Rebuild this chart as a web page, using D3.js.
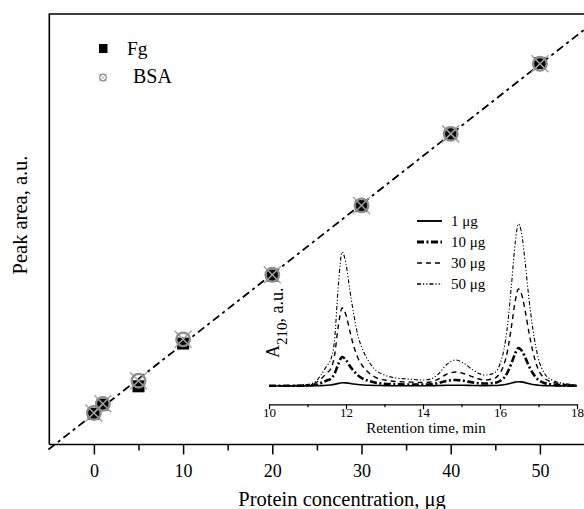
<!DOCTYPE html>
<html>
<head>
<meta charset="utf-8">
<script src="https://cdn.jsdelivr.net/npm/d3@7"></script>
<style>
  body { margin: 0; background: #fff; }
  svg { display: block; }
  text { font-family: "Liberation Serif", "Times New Roman", serif; fill: #000; }
</style>
</head>
<body>
<svg id="chart" width="584" height="509"></svg>
<script>
// Calibration: peak area vs. amount of protein injected
const concentration = [0, 1, 5, 10, 20, 30, 40, 50];          // µg
const fgArea  = [0.0, 1.3, 3.9, 10.0, 19.7, 29.6, 39.9, 50.0]; // a.u.
const bsaArea = [0.1, 1.4, 4.7, 10.6, 19.8, 29.7, 39.9, 49.9]; // a.u.
const xMajorTicks = [0, 10, 20, 30, 40, 50];
const xMinorTicks = [5, 15, 25, 35, 45];

// Inset chromatograms (A210 vs retention time)
const retention = [10, 10.5, 11.0, 11.2, 11.35, 11.5, 11.6, 11.7, 11.8, 11.9, 12.0, 12.1, 12.2, 12.3,
  12.45, 12.6, 12.8, 13.0, 13.3, 13.6, 14.0, 14.2, 14.4, 14.6, 14.85, 15.05, 15.3, 15.6, 15.85,
  16.0, 16.1, 16.2, 16.3, 16.4, 16.48, 16.55, 16.65, 16.75, 16.85, 17.0, 17.15, 17.35, 17.6, 18.0];
const a1ug = [0, 0, 0.1, 0.2, 0.4, 0.7, 1, 1.6, 2.6, 3.3, 3.1, 2.6, 2, 1.5,
  1, 0.7, 0.5, 0.4, 0.3, 0.3, 0.3, 0.3, 0.5, 0.7, 0.8, 0.7, 0.5, 0.4, 0.5,
  0.8, 1.2, 2, 3, 3.9, 4.3, 4.1, 3.4, 2.4, 1.5, 0.8, 0.4, 0.2, 0.1, 0];
const a10ug = [0.2, 0.2, 0.5, 1.2, 3, 5.5, 7, 12, 22, 29, 26, 20, 15, 11,
  7, 5, 3, 2.2, 1.8, 1.5, 1.5, 1.8, 3, 5, 6, 5.2, 3.5, 2.5, 3,
  5, 8, 14, 23, 33, 38, 36, 29, 20, 13, 6, 3, 1.5, 0.8, 0.3];
const a30ug = [0.3, 0.3, 1, 3, 7, 13, 17, 30, 60, 78, 71, 55, 40, 29,
  19, 13, 8, 6, 4.5, 4, 3.5, 4, 7, 11.5, 14, 12.5, 9, 6, 7.5,
  13, 21, 36, 60, 86, 97, 93, 76, 54, 35, 16, 8, 4, 2, 0.5];
const a50ug = [0.5, 0.5, 1.5, 4, 11, 20, 26, 45, 100, 134, 122, 96, 72, 52,
  35, 24, 15, 11, 8, 7, 6, 7, 12, 21, 26, 23, 16, 11, 13,
  22, 36, 62, 102, 145, 162, 155, 125, 88, 58, 27, 13, 6, 3, 1];
const insetLabels = ["1 μg", "10 μg", "30 μg", "50 μg"];
const insetTicksMajor = [10, 12, 14, 16, 18];
const insetTicksMinor = [11, 13, 15, 17];

const svg = d3.select("#chart");

// ---------- main axes ----------
const x = d3.scaleLinear().domain([-5, 55]).range([49.3, 584.5]);
const y = d3.scaleLinear().domain([-4.4, 57]).range([444.5, 14]);

// frame: left and top edges, bottom axis
svg.append("path")
  .attr("d", `M${x(-5)},${y(-4.4)}V${y(57)}H586`)
  .attr("fill", "none").attr("stroke", "#000").attr("stroke-width", 1.6);

const gx = svg.append("g").attr("transform", `translate(0,${y(-4.4)})`);
gx.call(d3.axisBottom(x).tickValues(xMajorTicks).tickSize(10).tickSizeOuter(0).tickPadding(9.5));
gx.append("g").call(d3.axisBottom(x).tickValues(xMinorTicks).tickSize(6).tickSizeOuter(0).tickFormat(""))
  .select(".domain").remove();
gx.selectAll(".domain").attr("stroke-width", 1.6).attr("d", `M${x(-5)},0H586`);
gx.selectAll(".tick line").attr("stroke-width", 1.5);
gx.selectAll(".tick text").style("font-family", '"Liberation Serif", serif').style("font-size", "18px");

svg.append("text").attr("x", 342).attr("y", 506).attr("text-anchor", "middle")
  .style("font-size", "20.5px").text("Protein concentration, μg");
svg.append("text").attr("transform", "translate(26.5,215) rotate(-90)").attr("text-anchor", "middle")
  .style("font-size", "20.5px").text("Peak area, a.u.");

// ---------- inset chromatograms ----------
const xi = d3.scaleLinear().domain([10, 18]).range([269, 577]);
const yi = d3.scaleLinear().domain([0, 170]).range([386, 216]);
const gi = svg.append("g");

const traces = [
  { label: insetLabels[3], vals: a50ug, dash: "4,2,1.2,2,1.2,2", w: 1.1 },
  { label: insetLabels[2], vals: a30ug, dash: "5,4", w: 1.4 },
  { label: insetLabels[1], vals: a10ug, dash: "7,2.5,2,2.5", w: 2.6 },
  { label: insetLabels[0], vals: a1ug, dash: null, w: 1.6 }
];
const line = d3.line().x(d => xi(d[0])).y(d => yi(d[1])).curve(d3.curveMonotoneX);
traces.forEach(t => {
  gi.append("path")
    .attr("d", line(retention.map((r, i) => [r, t.vals[i]])))
    .attr("fill", "none").attr("stroke", "#000")
    .attr("stroke-width", t.w).attr("stroke-dasharray", t.dash);
});

const gix = gi.append("g").attr("transform", "translate(0,404.3)");
gix.call(d3.axisBottom(xi).tickValues(insetTicksMajor).tickSize(5).tickSizeOuter(0).tickPadding(-1.5));
gix.append("g").call(d3.axisBottom(xi).tickValues(insetTicksMinor).tickSize(3).tickSizeOuter(0).tickFormat(""))
  .select(".domain").remove();
gix.selectAll(".domain").attr("stroke-width", 1.3);
gix.selectAll(".tick line").attr("stroke-width", 1.2);
gix.selectAll(".tick text").style("font-family", '"Liberation Serif", serif').style("font-size", "13px");

gi.append("text").attr("x", 426).attr("y", 433).attr("text-anchor", "middle")
  .style("font-size", "15px").text("Retention time, min");

const ylab = gi.append("text").attr("transform", "translate(279,358) rotate(-90)");
ylab.append("tspan").style("font-size", "18px").text("A");
ylab.append("tspan").style("font-size", "15px").attr("dy", 8).text("210");
ylab.append("tspan").style("font-size", "18px").attr("dy", -4).text(", a.u.");

// inset legend
const legRows = [traces[3], traces[2], traces[1], traces[0]];
legRows.forEach((t, i) => {
  const ry = 221 + i * 21;
  gi.append("line").attr("x1", 417).attr("x2", 442).attr("y1", ry).attr("y2", ry)
    .attr("stroke", "#000").attr("stroke-width", t.w + 0.3).attr("stroke-dasharray", t.dash);
  gi.append("text").attr("x", 451).attr("y", ry + 5).style("font-size", "15px").text(t.label);
});

// ---------- linear fit over both proteins ----------
const allX = concentration.concat(concentration);
const allY = fgArea.concat(bsaArea);
const mx = d3.mean(allX), my = d3.mean(allY);
const slope = d3.sum(allX, (v, i) => (v - mx) * (allY[i] - my)) / d3.sum(allX, v => (v - mx) ** 2);
const intercept = my - slope * mx;
svg.append("line")
  .attr("x1", x(-5.1)).attr("y1", y(intercept + slope * -5.1))
  .attr("x2", x(56)).attr("y2", y(intercept + slope * 56))
  .attr("stroke", "#000").attr("stroke-width", 1.8).attr("stroke-dasharray", "8,4,3,4");

// ---------- markers ----------
function bsaMarker(g, cx, cy, r, w) {
  const m = g.append("g").attr("transform", `translate(${cx},${cy})`);
  const a = r * 1.25;
  m.append("line").attr("x1", -a).attr("y1", -a).attr("x2", a).attr("y2", a);
  m.append("line").attr("x1", -a).attr("y1", a).attr("x2", a).attr("y2", -a);
  m.selectAll("line").attr("stroke", "#a3a3a3").attr("stroke-width", w * 0.65);
  m.append("circle").attr("r", r).attr("fill", "none").attr("stroke", "#8c8c8c").attr("stroke-width", w);
}

const pts = svg.append("g");
concentration.forEach((c, i) => {
  pts.append("rect").attr("x", x(c) - 6).attr("y", y(fgArea[i]) - 6)
    .attr("width", 12).attr("height", 12).attr("fill", "#000");
});
concentration.forEach((c, i) => bsaMarker(pts, x(c), y(bsaArea[i]), 6.8, 2.3));

// ---------- main legend ----------
svg.append("rect").attr("x", 99).attr("y", 44).attr("width", 8.5).attr("height", 9).attr("fill", "#000");
svg.append("text").attr("x", 127).attr("y", 55).style("font-size", "19.5px").text("Fg");
bsaMarker(svg, 103, 77.5, 3.3, 1.2);
svg.append("text").attr("x", 133).attr("y", 83.3).style("font-size", "20px").text("BSA");
</script>
</body>
</html>
